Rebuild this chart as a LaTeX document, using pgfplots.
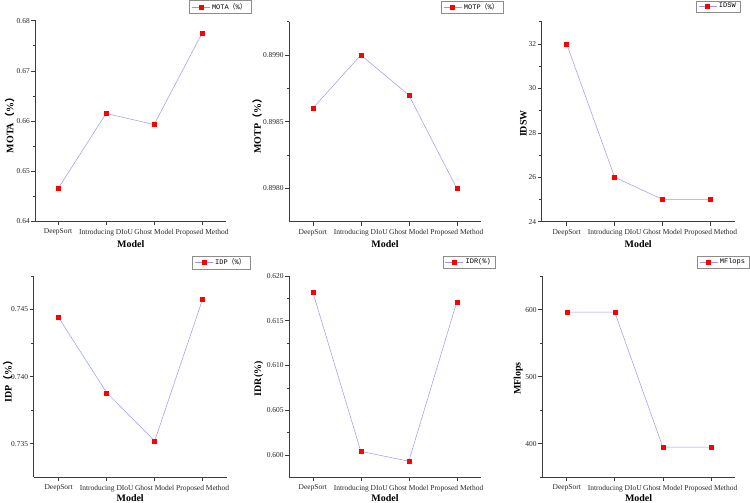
\documentclass[border=0pt]{standalone}
\usepackage{fontspec}
\setmainfont{Liberation Serif}
\setmonofont{Liberation Mono}
\newfontfamily\cjk{Noto Sans CJK SC}
\usepackage{pgfplots}
\pgfplotsset{compat=1.18}

\definecolor{linecol}{RGB}{150,150,255}
\definecolor{axiscol}{RGB}{60,60,60}
\newcommand{\pct}{{\cjk （}\%{\cjk ）}}

\pgfplotsset{
  panel/.style={
    scale only axis,
    anchor=south west,
    clip=false,
    axis x line*=bottom,
    axis y line*=left,
    axis line style={axiscol, line width=0.7bp, -},
    xmax=3.5,
    xtick={0,1,2,3},
    xticklabels={DeepSort, Introducing DIoU, Ghost Model, Proposed Method},
    tick align=outside,
    major tick length=4bp,
    minor tick length=2.5bp,
    every tick/.style={axiscol, line width=0.6bp},
    tick label style={font=\fontsize{7.5}{8}\selectfont, text=black!85},
    xticklabel style={inner xsep=0pt},
    yticklabel style={inner xsep=1.5bp},
    /pgf/number format/assume math mode=true,
    scaled y ticks=false,
    xlabel={Model},
    xlabel style={font=\fontsize{10}{12}\selectfont\bfseries, anchor=center},
    ylabel style={font=\fontsize{10}{12}\selectfont\bfseries, anchor=center},
    legend style={draw=black!45, line width=0.4bp, fill=white,
      font=\fontsize{7}{8}\selectfont\ttfamily, inner xsep=2bp, inner ysep=0.5bp,
      anchor=north east, cells={anchor=west}},
    legend image code/.code={%
      \draw[#1, mark repeat=2, mark phase=2]
        plot coordinates {(0bp,0bp) (9bp,0bp) (18bp,0bp)};},
  },
  series/.style={color=linecol, line width=0.5bp, mark=square*, mark size=2bp,
    mark options={draw=red, fill=red}},
}

\begin{document}
\begin{tikzpicture}
\useasboundingbox (0,0) rectangle (750bp,-503bp);

% ---------- MOTA ----------
\begin{axis}[panel,
  at={(35.5bp,-221.3bp)}, width=190.6bp, height=200.6bp,
  xmin=-0.47, ymin=0.64, ymax=0.68,
  ytick={0.64,0.65,0.66,0.67,0.68},
  minor ytick={0.645,0.655,0.665,0.675},
  yticklabel style={/pgf/number format/.cd, fixed, fixed zerofill, precision=2},
  ylabel={MOTA\pct},
  xlabel style={at={(axis description cs:0.5,-0.112)}},
  ylabel style={at={(axis description cs:-0.136,0.49)}},
  legend style={at={(axis description cs:1.131,1.101)}},
]
\addplot[series] coordinates {(0,0.6465) (1,0.6615) (2,0.6593) (3,0.6775)};
\addlegendentry{MOTA\pct}
\end{axis}

% ---------- MOTP ----------
\begin{axis}[panel,
  at={(289.3bp,-221.7bp)}, width=191.5bp, height=200bp,
  xmin=-0.49, ymin=0.89775, ymax=0.89925,
  ytick={0.8980,0.8985,0.8990},
  minor ytick={0.89825,0.89875,0.89925},
  yticklabel style={/pgf/number format/.cd, fixed, fixed zerofill, precision=4},
  ylabel={MOTP\pct},
  xlabel style={at={(axis description cs:0.5,-0.11)}},
  ylabel style={at={(axis description cs:-0.168,0.49)}},
  legend style={at={(axis description cs:1.116,1.106)}},
]
\addplot[series] coordinates {(0,0.8986) (1,0.8990) (2,0.8987) (3,0.8980)};
\addlegendentry{MOTP\pct}
\end{axis}

% ---------- IDSW ----------
\begin{axis}[panel,
  at={(541.7bp,-221.7bp)}, width=193bp, height=200bp,
  xmin=-0.52, ymin=24, ymax=33,
  ytick={24,26,28,30,32},
  minor ytick={25,27,29,31,33},
  ylabel={IDSW},
  xlabel style={at={(axis description cs:0.5,-0.11)}},
  ylabel style={at={(axis description cs:-0.095,0.49)}},
  legend style={at={(axis description cs:1.027,1.106)}},
]
\addplot[series] coordinates {(0,32) (1,26) (2,25) (3,25)};
\addlegendentry{IDSW}
\end{axis}

% ---------- IDP ----------
\begin{axis}[panel,
  at={(33.7bp,-477.3bp)}, width=193bp, height=201.3bp,
  xmin=-0.52, ymin=0.7325, ymax=0.7475,
  ytick={0.735,0.740,0.745},
  minor ytick={0.7375,0.7425,0.7475},
  yticklabel style={/pgf/number format/.cd, fixed, fixed zerofill, precision=3},
  ylabel={IDP\pct},
  xlabel style={at={(axis description cs:0.5,-0.104)}},
  ylabel style={at={(axis description cs:-0.134,0.49)}},
  legend style={at={(axis description cs:1.121,1.099)}},
]
\addplot[series] coordinates {(0,0.7444) (1,0.7388) (2,0.7352) (3,0.7458)};
\addlegendentry{IDP\pct}
\end{axis}

% ---------- IDR ----------
\begin{axis}[panel,
  at={(289.3bp,-477.3bp)}, width=191.5bp, height=201.3bp,
  xmin=-0.49, ymin=0.5975, ymax=0.620,
  ytick={0.600,0.605,0.610,0.615,0.620},
  minor ytick={0.6025,0.6075,0.6125,0.6175},
  yticklabel style={/pgf/number format/.cd, fixed, fixed zerofill, precision=3},
  ylabel={IDR(\%)},
  xlabel style={at={(axis description cs:0.5,-0.104)}},
  ylabel style={at={(axis description cs:-0.16,0.49)}},
  legend style={at={(axis description cs:1.074,1.099)}},
]
\addplot[series] coordinates {(0,0.6182) (1,0.6004) (2,0.5993) (3,0.6171)};
\addlegendentry{IDR(\%)}
\end{axis}

% ---------- MFlops ----------
\begin{axis}[panel,
  at={(542.3bp,-477.3bp)}, width=192.5bp, height=201.3bp,
  xmin=-0.51, ymin=350, ymax=650,
  ytick={400,500,600},
  minor ytick={350,450,550,650},
  ylabel={MFlops},
  xlabel style={at={(axis description cs:0.5,-0.104)}},
  ylabel style={at={(axis description cs:-0.125,0.49)}},
  legend style={at={(axis description cs:1.075,1.099)}},
]
\addplot[series] coordinates {(0,596) (1,596) (2,395) (3,395)};
\addlegendentry{MFlops}
\end{axis}
\end{tikzpicture}
\end{document}
